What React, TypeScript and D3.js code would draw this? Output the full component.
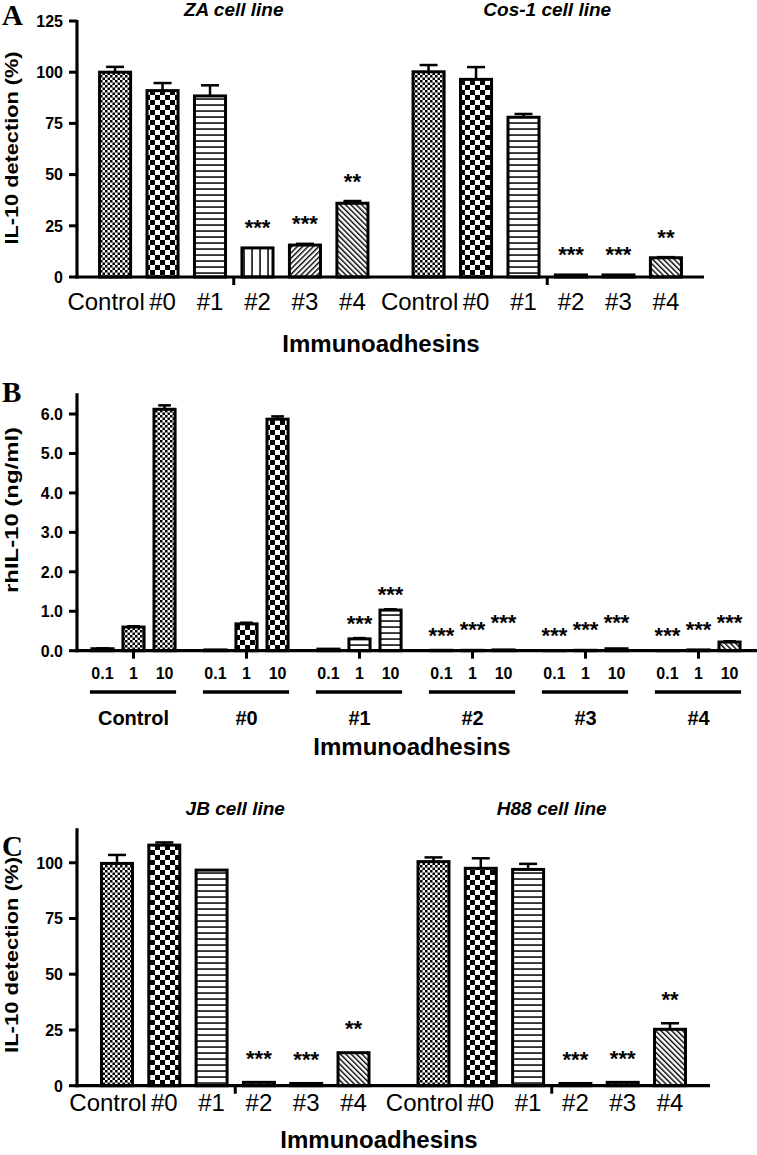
import React from 'react';
import * as d3 from 'd3';

// ---------- DATA ----------
const seriesLabels = ['Control', '#0', '#1', '#2', '#3', '#4'];
const starLabels = ['', '', '', '***', '***', '**'];

const panelAGroups = ['ZA cell line', 'Cos-1 cell line'];
const panelAZAValues = [100, 91, 88.4, 14.2, 15.6, 36];
const panelAZAErrors = [2.6, 3.7, 5.2, 0, 0.6, 1.1];
const panelACosValues = [100.2, 96.5, 78, 1, 1, 9.4];
const panelACosErrors = [3.3, 6, 1.6, 0, 0, 0.3];
const panelATicks = [0, 25, 50, 75, 100, 125];

const panelCGroups = ['JB cell line', 'H88 cell line'];
const panelCJBValues = [99.7, 107.9, 96.7, 1.5, 1, 14.8];
const panelCJBErrors = [3.8, 1.2, 0, 0, 0, 0];
const panelCH88Values = [100.5, 97.5, 97, 1, 1.5, 25.3];
const panelCH88Errors = [1.9, 4.5, 2.5, 0, 0, 2.7];
const panelCTicks = [0, 25, 50, 75, 100];

const panelBDoses = ['0.1', '1', '10'];
const panelBControl = [0.05, 0.6, 6.12];
const panelB0 = [0.02, 0.68, 5.87];
const panelB1 = [0.04, 0.3, 1.03];
const panelB2 = [0.01, 0.01, 0.02];
const panelB3 = [0.0, 0.01, 0.05];
const panelB4 = [0.0, 0.02, 0.22];
const panelBErrControl = [0.01, 0.02, 0.1];
const panelBErr0 = [0, 0.03, 0.07];
const panelBErr1 = [0, 0.02, 0.02];
const panelBErr2 = [0, 0, 0];
const panelBErr3 = [0, 0, 0];
const panelBErr4 = [0, 0, 0.02];
const panelBStars = [
  ['', '', ''],
  ['', '', ''],
  ['', '***', '***'],
  ['***', '***', '***'],
  ['***', '***', '***'],
  ['***', '***', '***'],
];
const panelBTicks = [0, 1, 2, 3, 4, 5, 6];

// ---------- STYLE ----------
const SANS = "'Liberation Sans', Arial, Helvetica, sans-serif";
const SERIF = "'Liberation Serif', 'Times New Roman', serif";
const patternIds = ['pCheckFine', 'pCheckCoarse', 'pHLines', 'pVLines', 'pDiagUp', 'pDiagDown'];

function Patterns() {
  return (
    <defs>
      <pattern id="pCheckFine" patternUnits="userSpaceOnUse" width={5} height={5}>
        <rect width={5} height={5} fill="#fff" />
        <rect width={2.5} height={2.5} fill="#000" />
        <rect x={2.5} y={2.5} width={2.5} height={2.5} fill="#000" />
      </pattern>
      <pattern id="pCheckCoarse" patternUnits="userSpaceOnUse" width={10} height={10}>
        <rect width={10} height={10} fill="#fff" />
        <rect width={5} height={5} fill="#000" />
        <rect x={5} y={5} width={5} height={5} fill="#000" />
      </pattern>
      <pattern id="pHLines" patternUnits="userSpaceOnUse" width={6} height={6}>
        <rect width={6} height={6} fill="#fff" />
        <rect y={2.3} width={6} height={1.5} fill="#000" />
      </pattern>
      <pattern id="pVLines" patternUnits="userSpaceOnUse" width={8} height={8}>
        <rect width={8} height={8} fill="#fff" />
        <rect x={3.3} width={1.5} height={8} fill="#000" />
      </pattern>
      <pattern id="pDiagUp" patternUnits="userSpaceOnUse" width={3.8} height={8} patternTransform="rotate(45)">
        <rect width={3.8} height={8} fill="#fff" />
        <rect width={1.4} height={8} fill="#000" />
      </pattern>
      <pattern id="pDiagDown" patternUnits="userSpaceOnUse" width={3.8} height={8} patternTransform="rotate(-45)">
        <rect width={3.8} height={8} fill="#fff" />
        <rect width={1.4} height={8} fill="#000" />
      </pattern>
    </defs>
  );
}

function Bar({ x, w, y, v, e, fill }: any) {
  const top = y(v);
  const base = y(0);
  const capW = Math.min(18, w * 0.6);
  const cx = x + w / 2;
  return (
    <g>
      {e > 0 && (
        <g stroke="#000" strokeWidth={2.5}>
          <line x1={cx} x2={cx} y1={top} y2={y(v + e)} />
          <line x1={cx - capW / 2} x2={cx + capW / 2} y1={y(v + e)} y2={y(v + e)} />
        </g>
      )}
      <rect x={x} y={top} width={w} height={Math.max(0.01, base - top)} fill={fill} stroke="#000" strokeWidth={3} />
    </g>
  );
}

function YAxis({ y, ticks, fmt, x0, top, title, titleCenter, titleLength }: any) {
  return (
    <g>
      <line x1={x0} x2={x0} y1={top - 1} y2={y(0) + 1.5} stroke="#000" strokeWidth={3.2} />
      {ticks.map((t: number) => (
        <g key={t}>
          <line x1={x0 - 8} x2={x0} y1={y(t)} y2={y(t)} stroke="#000" strokeWidth={3} />
          <text x={x0 - 14} y={y(t) + 5.8} textAnchor="end" fontFamily={SANS} fontWeight="bold" fontSize={16}>
            {fmt(t)}
          </text>
        </g>
      ))}
      <text
        transform={`translate(18,${titleCenter}) rotate(-90)`}
        textAnchor="middle"
        fontFamily={SANS}
        fontWeight="bold"
        fontSize={18}
        textLength={titleLength}
        lengthAdjust="spacingAndGlyphs"
      >
        {title}
      </text>
    </g>
  );
}

function GroupedPanel(props: any) {
  const { letter, letterBaseline, groups, values, errors, yTicks, yDomain, yRange, xRange, padInner, padOuter,
    labelBaseline, titleBaseline, titleCenterX, groupTitleBaseline, yTitleCenter, yTitleLength, starGap } = props;
  const y = d3.scaleLinear().domain(yDomain).range(yRange);
  const x0 = d3.scaleBand<string>().domain(groups).range(xRange).padding(0);
  const x1 = d3.scaleBand<string>().domain(seriesLabels).range([0, x0.bandwidth()]).paddingInner(padInner).paddingOuter(padOuter);
  const w = x1.bandwidth();
  return (
    <g>
      <text x={2} y={letterBaseline} fontFamily={SERIF} fontWeight="bold" fontSize={29}>{letter}</text>
      <YAxis y={y} ticks={yTicks} fmt={(t: number) => String(t)} x0={xRange[0]} top={y(yDomain[1])}
        title="IL-10 detection (%)" titleCenter={yTitleCenter} titleLength={yTitleLength} />
      {groups.map((g: string, gi: number) => {
        const gx = x0(g)!;
        return (
          <g key={g}>
            <text x={gx + x0.bandwidth() / 2} y={groupTitleBaseline} textAnchor="middle" fontFamily={SANS}
              fontWeight="bold" fontStyle="italic" fontSize={19}>{g}</text>
            {seriesLabels.map((s, si) => {
              const bx = gx + x1(s)!;
              const v = values[gi][si];
              const e = errors[gi][si];
              return (
                <g key={s}>
                  <Bar x={bx} w={w} y={y} v={v} e={e} fill={`url(#${patternIds[si]})`} />
                  {starLabels[si] && (
                    <text x={bx + w / 2} y={y(v + e) - starGap + 12.5} textAnchor="middle" fontFamily={SANS}
                      fontWeight="bold" fontSize={22}>{starLabels[si]}</text>
                  )}
                  <text x={bx + w / 2 + (si === 0 ? -9 : 0)} y={labelBaseline} textAnchor="middle"
                    fontFamily={SANS} fontSize={24}>{s}</text>
                </g>
              );
            })}
            <line x1={gx + x0.bandwidth() / 2} x2={gx + x0.bandwidth() / 2} y1={y(0)} y2={y(0) + 8}
              stroke="#000" strokeWidth={3} />
          </g>
        );
      })}
      <line x1={xRange[0] - 1.5} x2={xRange[1]} y1={y(0)} y2={y(0)} stroke="#000" strokeWidth={3.2} />
      <text x={titleCenterX} y={titleBaseline} textAnchor="middle" fontFamily={SANS} fontWeight="bold" fontSize={24}>
        Immunoadhesins
      </text>
    </g>
  );
}

function PanelB() {
  const values = [panelBControl, panelB0, panelB1, panelB2, panelB3, panelB4];
  const errors = [panelBErrControl, panelBErr0, panelBErr1, panelBErr2, panelBErr3, panelBErr4];
  const y = d3.scaleLinear().domain([0, 6.5]).range([650.7, 394.3]);
  const x0 = d3.scaleBand<string>().domain(seriesLabels).range([77, 755]).padding(0);
  const x1 = d3.scaleBand<string>().domain(panelBDoses).range([0, x0.bandwidth()]).paddingInner(0.32).paddingOuter(0.48);
  const w = x1.bandwidth();
  return (
    <g>
      <text x={2} y={402} fontFamily={SERIF} fontWeight="bold" fontSize={29}>B</text>
      <YAxis y={y} ticks={panelBTicks} fmt={d3.format('.1f')} x0={77} top={y(6.5)}
        title="rhIL-10 (ng/ml)" titleCenter={510} titleLength={166} />
      {seriesLabels.map((g, gi) => {
        const gx = x0(g)!;
        const cx = gx + x0.bandwidth() / 2;
        const first = gx + x1(panelBDoses[0])!;
        const last = gx + x1(panelBDoses[2])! + w;
        return (
          <g key={g}>
            {panelBDoses.map((d, di) => {
              const bx = gx + x1(d)!;
              const v = values[gi][di];
              const e = errors[gi][di];
              const star = panelBStars[gi][di];
              const sy = Math.min(y(v + e) - 20, y(0) - 19 - di * 7);
              return (
                <g key={d}>
                  <Bar x={bx} w={w} y={y} v={v} e={e} fill={`url(#${patternIds[gi]})`} />
                  {star && (
                    <text x={bx + w / 2} y={sy + 12.5} textAnchor="middle" fontFamily={SANS} fontWeight="bold"
                      fontSize={22}>{star}</text>
                  )}
                  <text x={bx + w / 2} y={679} textAnchor="middle" fontFamily={SANS} fontWeight="bold"
                    fontSize={16}>{d}</text>
                </g>
              );
            })}
            <line x1={cx} x2={cx} y1={y(0)} y2={y(0) + 8} stroke="#000" strokeWidth={3} />
            <line x1={first - 2} x2={last + 1} y1={692} y2={692} stroke="#000" strokeWidth={3.5} />
            <text x={cx} y={725} textAnchor="middle" fontFamily={SANS} fontWeight="bold" fontSize={20}>{g}</text>
          </g>
        );
      })}
      <line x1={75.5} x2={757} y1={y(0)} y2={y(0)} stroke="#000" strokeWidth={3.2} />
      <text x={412} y={755} textAnchor="middle" fontFamily={SANS} fontWeight="bold" fontSize={24}>
        Immunoadhesins
      </text>
    </g>
  );
}

export default function App() {
  return (
    <svg width={757} height={1155} viewBox="0 0 757 1155"
      style={{ position: 'absolute', left: 0, top: 0, display: 'block', background: '#fff' }}>
      <Patterns />
      <rect width={757} height={1155} fill="#fff" />
      <GroupedPanel
        letter="A" letterBaseline={25}
        groups={panelAGroups}
        values={[panelAZAValues, panelACosValues]}
        errors={[panelAZAErrors, panelACosErrors]}
        yTicks={panelATicks} yDomain={[0, 125]} yRange={[277, 21]}
        xRange={[77, 704]} padInner={0.346} padOuter={0.475}
        labelBaseline={310} titleBaseline={352} titleCenterX={381} groupTitleBaseline={16}
        yTitleCenter={148} yTitleLength={193} starGap={25}
      />
      <PanelB />
      <GroupedPanel
        letter="C" letterBaseline={856}
        groups={panelCGroups}
        values={[panelCJBValues, panelCH88Values]}
        errors={[panelCJBErrors, panelCH88Errors]}
        yTicks={panelCTicks} yDomain={[0, 115]} yRange={[1085.7, 829.3]}
        xRange={[77, 710]} padInner={0.345} padOuter={0.518}
        labelBaseline={1111} titleBaseline={1148} titleCenterX={379} groupTitleBaseline={815}
        yTitleCenter={955} yTitleLength={196} starGap={29}
      />
    </svg>
  );
}
